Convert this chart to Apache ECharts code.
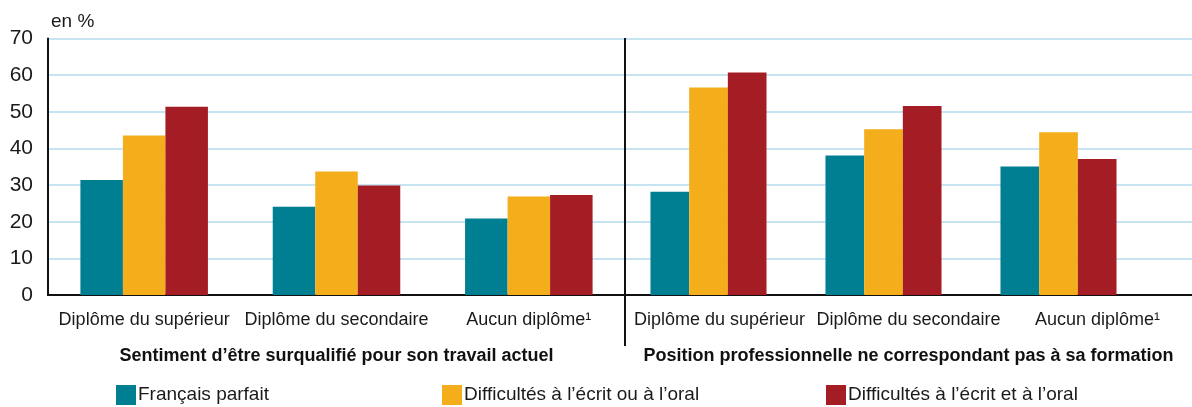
<!DOCTYPE html>
<html>
<head>
<meta charset="utf-8">
<script src="https://cdn.jsdelivr.net/npm/echarts@6/dist/echarts.min.js"></script>
<style>
  html, body { margin: 0; padding: 0; background: #fff; }
  #chart { width: 1192px; height: 407px; }
</style>
</head>
<body>
<div id="chart"></div>
<script>
// categories and values (en %)
var categories = ['Diplôme du supérieur', 'Diplôme du secondaire', 'Aucun diplôme¹'];
var seriesNames = ['Français parfait', 'Difficultés à l\u2019écrit ou à l\u2019oral', 'Difficultés à l\u2019écrit et à l\u2019oral'];
var yTicks = [0, 10, 20, 30, 40, 50, 60, 70];

// Sentiment d'être surqualifié pour son travail actuel
var surqualParfait = [31.4, 24.1, 20.9];
var surqualOuOral = [43.5, 33.7, 26.9];
var surqualEtOral = [51.4, 29.9, 27.3];

// Position professionnelle ne correspondant pas à sa formation
var positionParfait = [28.2, 38.1, 35.1];
var positionOuOral = [56.6, 45.2, 44.4];
var positionEtOral = [60.7, 51.6, 37.1];

var colors = ['#007e92', '#f5ae1b', '#a41c24'];
var FONT = '"Liberation Sans", Arial, sans-serif';
var gridColor = '#b5dbef';

var yMin = yTicks[0], yMax = yTicks[yTicks.length - 1], yStep = yTicks[1] - yTicks[0];

function barSeries(name, data, axisIdx, color) {
    return {
        name: name,
        type: 'bar',
        xAxisIndex: axisIdx,
        yAxisIndex: axisIdx,
        data: data,
        barGap: 0,
        barCategoryGap: '33.7%',
        itemStyle: { color: color },
        emphasis: { disabled: true }
    };
}

function legendAt(left, name) {
    return {
        left: left,
        top: 380,
        icon: 'rect',
        itemWidth: 20,
        itemHeight: 20,
        itemGap: 8,
        selectedMode: false,
        data: [name],
        textStyle: { fontFamily: FONT, fontSize: 19, color: '#1a1a1a', padding: [0, 0, 0, -3] }
    };
}

var labelStyle = { fontFamily: FONT, fontSize: 18, color: '#1a1a1a', margin: 16, interval: 0 };
var nameStyle = { fontFamily: FONT, fontSize: 18, fontWeight: 'bold', color: '#111' };

var chart = echarts.init(document.getElementById('chart'));

var option = {
    animation: false,
    backgroundColor: '#fff',
    color: colors,
    title: {
        text: 'en %',
        left: 46,
        top: 7,
        textStyle: { fontFamily: FONT, fontSize: 19, fontWeight: 'normal', color: '#1a1a1a' }
    },
    legend: [
        legendAt(111, seriesNames[0]),
        legendAt(437, seriesNames[1]),
        legendAt(821, seriesNames[2])
    ],
    grid: [
        // left panel
        { left: 48, right: 567, top: 38.5, bottom: 112, outerBoundsMode: 'none', containLabel: false },
        // right panel, bars
        { left: 621, right: 46, top: 38.5, bottom: 112, outerBoundsMode: 'none', containLabel: false },
        // right panel, labels and gridlines
        { left: 625, right: 0, top: 38.5, bottom: 112, outerBoundsMode: 'none', containLabel: false }
    ],
    xAxis: [
        {
            type: 'category', gridIndex: 0, data: categories,
            axisLine: { lineStyle: { color: '#111', width: 2 } },
            axisTick: { show: false },
            axisLabel: labelStyle,
            name: 'Sentiment d\u2019être surqualifié pour son travail actuel',
            nameLocation: 'middle',
            nameGap: 52,
            nameTextStyle: nameStyle
        },
        {
            type: 'category', gridIndex: 1, data: categories, show: false
        },
        {
            type: 'category', gridIndex: 2, data: categories,
            axisLine: { lineStyle: { color: '#111', width: 2 } },
            axisTick: { show: false },
            axisLabel: labelStyle,
            name: 'Position professionnelle ne correspondant pas à sa formation',
            nameLocation: 'middle',
            nameGap: 52,
            nameTextStyle: nameStyle
        }
    ],
    yAxis: [
        {
            type: 'value', gridIndex: 0, min: yMin, max: yMax, interval: yStep,
            axisLine: { show: true, lineStyle: { color: '#111', width: 2 } },
            axisTick: { show: false },
            axisLabel: { fontFamily: FONT, fontSize: 21, color: '#1a1a1a', margin: 15 },
            splitLine: { lineStyle: { color: gridColor, width: 1.5 } }
        },
        {
            type: 'value', gridIndex: 1, min: yMin, max: yMax, interval: yStep, show: false
        },
        {
            type: 'value', gridIndex: 2, min: yMin, max: yMax, interval: yStep,
            axisLine: { show: false },
            axisTick: { show: false },
            axisLabel: { show: false },
            splitLine: { lineStyle: { color: gridColor, width: 1.5 } }
        }
    ],
    graphic: [
        // divider between the two panels
        {
            type: 'line',
            shape: { x1: 625, y1: 38, x2: 625, y2: 346 },
            style: { stroke: '#111', lineWidth: 2 },
            z: 10
        }
    ],
    series: [
        barSeries(seriesNames[0], surqualParfait, 0, colors[0]),
        barSeries(seriesNames[1], surqualOuOral, 0, colors[1]),
        barSeries(seriesNames[2], surqualEtOral, 0, colors[2]),
        barSeries(seriesNames[0], positionParfait, 1, colors[0]),
        barSeries(seriesNames[1], positionOuOral, 1, colors[1]),
        barSeries(seriesNames[2], positionEtOral, 1, colors[2])
    ]
};

chart.setOption(option);
</script>
</body>
</html>
